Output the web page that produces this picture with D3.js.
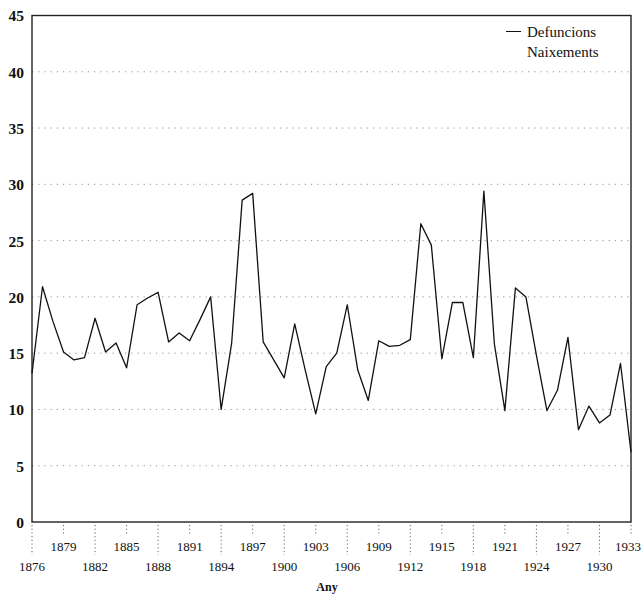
<!DOCTYPE html>
<html><head><meta charset="utf-8">
<script src="https://cdn.jsdelivr.net/npm/d3@7"></script>
<style>body{margin:0;background:#fff}svg{display:block}</style>
</head><body><svg id="c" width="642" height="594"></svg>
<script>
const years = [1876,1877,1878,1879,1880,1881,1882,1883,1884,1885,1886,1887,1888,1889,1890,1891,1892,1893,1894,1895,1896,1897,1898,1899,1900,1901,1902,1903,1904,1905,1906,1907,1908,1909,1910,1911,1912,1913,1914,1915,1916,1917,1918,1919,1920,1921,1922,1923,1924,1925,1926,1927,1928,1929,1930,1931,1932,1933];
const defuncions = [13.2,20.9,17.8,15.1,14.4,14.6,18.1,15.1,15.9,13.7,19.3,19.9,20.4,16.0,16.8,16.1,18.0,20.0,10.0,15.9,28.6,29.2,16.0,14.4,12.8,17.6,13.5,9.6,13.8,15.0,19.3,13.5,10.8,16.1,15.6,15.7,16.2,26.5,24.6,14.5,19.5,19.5,14.6,29.4,15.8,9.9,20.8,20.0,14.8,9.9,11.7,16.4,8.2,10.3,8.8,9.5,14.1,6.2];
const xTicks = [1876,1879,1882,1885,1888,1891,1894,1897,1900,1903,1906,1909,1912,1915,1918,1921,1924,1927,1930,1933];
const yTicks = [0,5,10,15,20,25,30,35,40,45];
const legendLabels = ["Defuncions","Naixements"];
const xTitle = "Any";

const svg = d3.select("#c");
const L = 32, R = 631, T = 15.5, B = 522;
const x = d3.scaleLinear().domain([1876,1933]).range([L,R]);
const y = d3.scaleLinear().domain([0,45]).range([B,T]);
const serif = "'Liberation Serif','Times New Roman',serif";

// gridlines
svg.append("g").selectAll("line").data(yTicks.filter(d=>d>0&&d<45)).join("line")
  .attr("x1",L).attr("x2",R).attr("y1",d=>y(d)).attr("y2",d=>y(d))
  .attr("stroke","#888").attr("stroke-width",0.9).attr("stroke-dasharray","1.2,5");

// frame
svg.append("rect").attr("x",L).attr("y",T).attr("width",R-L).attr("height",B-T)
  .attr("fill","none").attr("stroke","#222").attr("stroke-width",1.4);

// y axis labels
const yAxis = d3.axisLeft(y).tickValues(yTicks).tickSize(0).tickPadding(8);
const gy = svg.append("g").attr("transform",`translate(${L},0)`).call(yAxis);
gy.select(".domain").remove();
gy.selectAll("text").attr("font-family",serif).attr("font-size",15.5).attr("font-weight","bold").attr("fill","#111").attr("dy","0.35em");

// x axis ticks (dotted) and staggered labels
const gx = svg.append("g");
xTicks.forEach((t,i)=>{
  const low = i%2===0;
  const last = i===xTicks.length-1;
  gx.append("line").attr("x1",x(t)).attr("x2",x(t)).attr("y1",B+3).attr("y2",low?B+33:B+14)
    .attr("stroke","#555").attr("stroke-width",0.9).attr("stroke-dasharray","1.2,2.5");
  gx.append("text").attr("x",last?641:x(t)).attr("y",low?B+49:B+29)
    .attr("text-anchor",last?"end":"middle")
    .attr("font-family",serif).attr("font-size",13).attr("fill","#111").text(t);
});
svg.append("text").attr("x",327).attr("y",591).attr("text-anchor","middle")
  .attr("font-family",serif).attr("font-size",12).attr("font-weight","bold").attr("fill","#111").text(xTitle);

// line
const line = d3.line().x((d,i)=>x(years[i])).y(d=>y(d));
svg.append("path").datum(defuncions).attr("d",line).attr("fill","none")
  .attr("stroke","#111").attr("stroke-width",1.3).attr("stroke-linejoin","round");

// legend
svg.append("line").attr("x1",506).attr("x2",521).attr("y1",31.5).attr("y2",31.5).attr("stroke","#111").attr("stroke-width",1);
legendLabels.forEach((t,i)=>{
  svg.append("text").attr("x",527).attr("y",37+i*20).attr("font-family",serif).attr("font-size",15).attr("fill","#111").text(t);
});
</script></body></html>
